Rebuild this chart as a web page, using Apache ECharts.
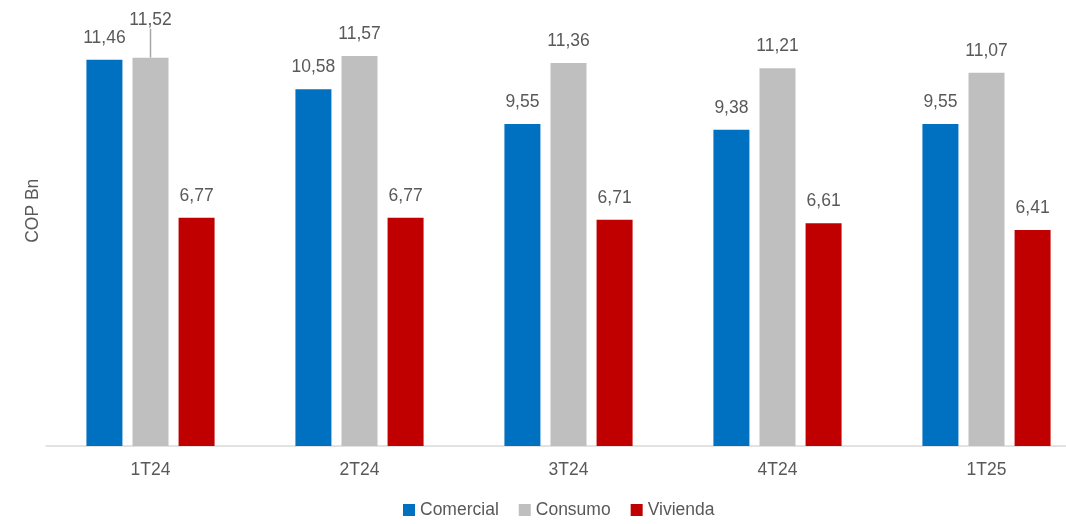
<!DOCTYPE html>
<html><head><meta charset="utf-8">
<script src="https://cdn.jsdelivr.net/npm/echarts@6/dist/echarts.min.js"></script>
<style>html,body{margin:0;padding:0;background:#fff;overflow:hidden;width:1066px;height:524px}#c{width:1091px;height:524px}</style>
</head><body><div id="c"></div>
<script>
const categories = ['1T24','2T24','3T24','4T24','1T25'];
const comercial = [11.46, 10.58, 9.55, 9.38, 9.55];
const consumo = [11.52, 11.57, 11.36, 11.21, 11.07];
const vivienda = [6.77, 6.77, 6.71, 6.61, 6.41];
const seriesNames = ['Comercial','Consumo','Vivienda'];
const colors = ['#0070C0','#BFBFBF','#C00000'];

const font = 'Liberation Sans, Arial, sans-serif';
const fmt = v => v.toFixed(2).replace('.', ',');
function mk(name, data, color, idx) {
  return {
    name, type: 'bar', barWidth: 36, barGap: '28%',
    data: data.map((v, i) => (idx === 1 && i === 0)
      ? { value: v, labelLine: { show: true, lineStyle: { color: '#A6A6A6', width: 1.5 } } } : v),
    itemStyle: { color },
    label: { show: true, position: 'top', distance: 13, color: '#595959', fontFamily: font, fontSize: 17.5,
      formatter: p => fmt(p.value) },
    labelLine: { show: false },
    labelLayout: idx === 1 ? (p => p.dataIndex === 0 ? { dy: -16 } : {}) : undefined
  };
}
const chart = echarts.init(document.getElementById('c'));
chart.setOption({
  animation: false,
  grid: { left: 46, top: 41.5, right: 0, bottom: 78 },
  legend: { bottom: 0, left: 398, icon: 'rect', itemWidth: 12, itemHeight: 12, itemGap: 20,
    textStyle: { color: '#595959', fontFamily: font, fontSize: 17.5 }, data: seriesNames },
  xAxis: { type: 'category', data: categories,
    axisLine: { lineStyle: { color: '#D9D9D9', width: 1.5 } }, axisTick: { show: false },
    axisLabel: { color: '#595959', fontFamily: font, fontSize: 17.5, margin: 15 } },
  yAxis: { type: 'value', min: 0, max: 12, show: true, name: 'COP Bn', nameLocation: 'middle', nameGap: 4,
    nameTextStyle: { color: '#595959', fontFamily: font, fontSize: 17.5, padding: [0,0,0,66] },
    axisLine: { show: false }, axisTick: { show: false }, axisLabel: { show: false }, splitLine: { show: false } },
  series: [mk(seriesNames[0], comercial, colors[0], 0), mk(seriesNames[1], consumo, colors[1], 1), mk(seriesNames[2], vivienda, colors[2], 2)]
});
</script></body></html>
